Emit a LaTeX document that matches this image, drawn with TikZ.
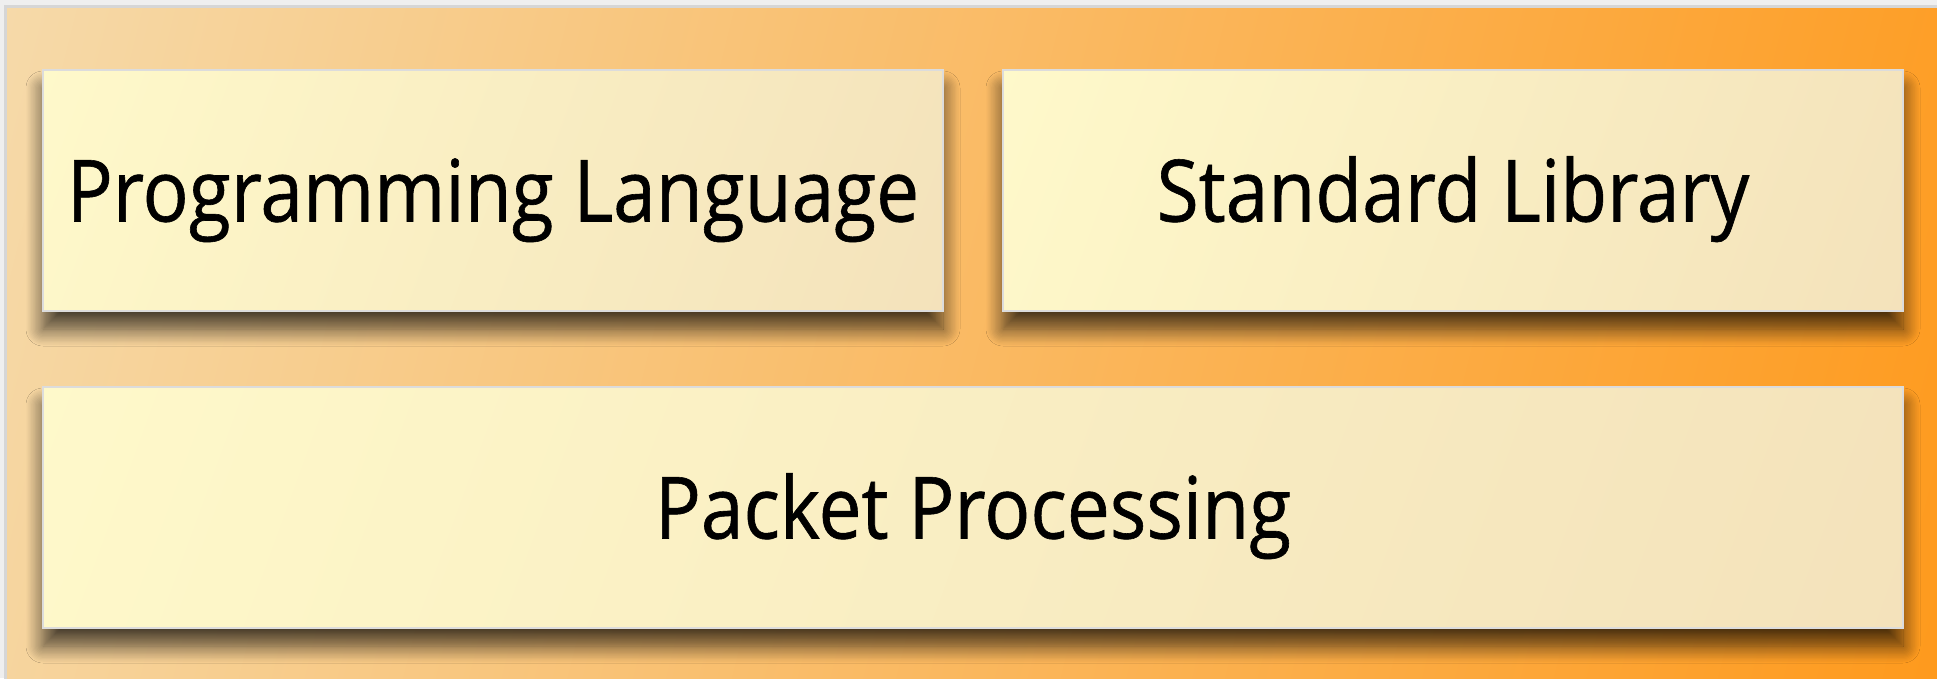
\documentclass[tikz,border=0pt]{standalone}
\usepackage{fontspec}
\newfontfamily\boxfont[FakeStretch=0.89,FakeBold=0.7]{Open Sans}
\usetikzlibrary{shadows.blur}
\definecolor{bgA}{HTML}{F5DFB5}
\definecolor{bgB}{HTML}{FF9410}
\definecolor{pageC}{HTML}{EFEFEF}
\definecolor{frameC}{HTML}{D6D6D6}
\definecolor{boxA}{HTML}{FFFACB}
\definecolor{boxB}{HTML}{F3E1BA}
\definecolor{boxLine}{HTML}{DCDCDC}
\pgfdeclarehorizontalshading{bgshade}{100bp}{color(0bp)=(bgA); color(14.6bp)=(bgA); color(85.4bp)=(bgB); color(100bp)=(bgB)}
\pgfdeclarehorizontalshading{boxshade}{100bp}{color(0bp)=(boxA); color(14.6bp)=(boxA); color(85.4bp)=(boxB); color(100bp)=(boxB)}
\tikzset{
  layerbox/.style={
    draw=boxLine, line width=2.5pt, shading=boxshade, shading angle=-20,
    inner sep=0pt, minimum height=241pt, text height=62pt, text depth=0pt,
    font=\boxfont\fontsize{86}{100}\selectfont, text=black,
    blur shadow={shadow xshift=0pt, shadow yshift=-18pt, shadow blur radius=17pt,
      shadow blur steps=14, shadow blur extra rounding=0pt, shadow opacity=70}
  }
}
\begin{document}
\begin{tikzpicture}[x=1pt, y=-1pt]
  \useasboundingbox (0,0) rectangle (1937,678);
  \fill[pageC] (0,0) rectangle (1937,678);
  \path[draw=frameC, line width=3pt, shading=bgshade, shading angle=-14]
    (5.5,6.5) rectangle (1950,690);
  \node[layerbox, minimum width=900pt] (pl) at (493,190.5) {Programming Language};
  \node[layerbox, minimum width=900pt] (sl) at (1453,190.5) {Standard Library};
  \node[layerbox, minimum width=1860pt] (pp) at (973,507.5) {Packet Processing};
\end{tikzpicture}
\end{document}
